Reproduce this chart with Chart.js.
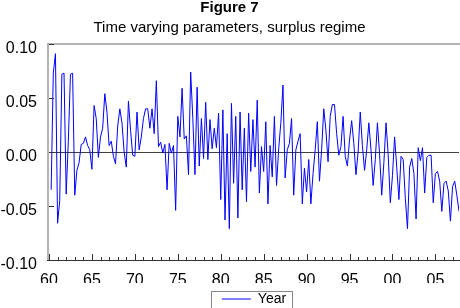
<!DOCTYPE html>
<html>
<head>
<meta charset="utf-8">
<script src="https://cdn.jsdelivr.net/npm/chart.js@4.4.1/dist/chart.umd.min.js"></script>
<style>
  html, body { margin: 0; padding: 0; background: #fff; }
  canvas { display: block; }
</style>
</head>
<body>
<canvas id="chart" width="460" height="308"></canvas>
<script>
// quarterly series, first observation 1960Q2
const firstQuarter = 1960.25;
const values = [
  -0.035, 0.073, 0.091,
  -0.066, -0.045, 0.072, 0.073,
  -0.039, 0.010, 0.072, 0.073,
  -0.040, -0.017, -0.010, 0.007,
  0.008, 0.014, 0.006, 0.002,
  -0.016, 0.043, 0.031, -0.005,
  0.014, 0.022, 0.054, 0.037,
  0.006, 0.010, -0.004, -0.011,
  0.024, 0.040, 0.027, 0.000,
  -0.014, 0.047, 0.020, -0.003,
  -0.004, 0.037, 0.002, 0.014,
  0.031, 0.040, 0.040, 0.022,
  0.040, 0.017, 0.066, 0.005,
  0.009, -0.001, 0.007, -0.035,
  0.008, -0.001, 0.006, -0.054,
  0.033, 0.014, 0.059, 0.012,
  0.015, -0.021, 0.074, 0.031,
  -0.021, 0.060, -0.013, 0.031,
  -0.006, 0.046, -0.007, 0.030,
  0.003, 0.022, 0.004, 0.036,
  -0.044, 0.039, -0.063, 0.017,
  -0.071, 0.045, -0.029, 0.033,
  -0.061, 0.037, -0.035, 0.022,
  -0.046, 0.036, -0.018, 0.030,
  -0.014, 0.048, -0.038, 0.005,
  -0.018, 0.028, -0.048, 0.006,
  -0.023, 0.033, -0.031, 0.003,
  0.027, 0.062, -0.024, 0.002,
  0.008, 0.031, -0.040, 0.002,
  0.010, 0.017, -0.048, -0.015,
  -0.037, -0.007, -0.048, -0.020,
  0.002, 0.028, -0.027, 0.002,
  0.040, 0.020, -0.009, 0.033,
  0.044, 0.044, 0.017, -0.003,
  0.005, 0.033, -0.004, -0.013,
  0.011, 0.029, 0.008, -0.021,
  0.000, 0.037, 0.006, -0.017,
  0.002, 0.027, 0.002, -0.031,
  -0.007, 0.027, -0.002, -0.040,
  -0.010, 0.027, -0.002, -0.047,
  -0.022, 0.014, -0.014, -0.044,
  -0.004, -0.007, -0.043, -0.071,
  -0.014, -0.006, -0.020, -0.062,
  0.004, -0.008, 0.004, -0.038,
  -0.005, -0.003, -0.003, -0.047,
  -0.020, -0.018, -0.027, -0.055,
  -0.029, -0.027, -0.036, -0.064,
  -0.032, -0.027, -0.040, -0.055
];
const tickYears = [1960, 1965, 1970, 1975, 1980, 1985, 1990, 1995, 2000, 2005];
const tickLabels = ["60", "65", "70", "75", "80", "85", "90", "95", "00", "05"];
const yTicks = [-0.10, -0.05, 0.00, 0.05, 0.10];
const seriesName = "Year";

const FONT = "'Liberation Sans', Arial, sans-serif";

const points = values.map((v, i) => ({ x: firstQuarter + i * 0.25, y: v }));

// frame, inward tick marks and the box round the legend
const framePlugin = {
  id: "frame",
  afterDraw(chart) {
    const { ctx, chartArea: a, scales } = chart;
    const x = scales.x, y = scales.y;
    ctx.save();

    ctx.strokeStyle = "#b4b4b4";
    ctx.lineWidth = 2;
    ctx.beginPath();
    ctx.moveTo(a.left - 1, a.bottom);
    ctx.lineTo(a.left - 1, a.top);
    ctx.lineTo(a.right + 1, a.top);
    ctx.stroke();

    ctx.lineWidth = 1;
    ctx.strokeStyle = "#333";
    ctx.beginPath();
    ctx.moveTo(a.left - 2, Math.round(a.bottom) + 0.5);
    ctx.lineTo(a.right + 1, Math.round(a.bottom) + 0.5);
    for (let yr = 1960; yr <= 2007; yr++) {
      const px = Math.round(x.getPixelForValue(yr)) + 0.5;
      const len = yr % 5 === 0 ? 6 : 3;
      ctx.moveTo(px, a.bottom);
      ctx.lineTo(px, a.bottom - len);
    }
    for (const v of yTicks) {
      const py = Math.round(y.getPixelForValue(v)) + 0.5;
      ctx.moveTo(a.left, py);
      ctx.lineTo(a.left + 5, py);
    }
    ctx.stroke();

    const hb = chart.legend && chart.legend.legendHitBoxes && chart.legend.legendHitBoxes[0];
    if (hb) {
      ctx.strokeStyle = "#888";
      ctx.strokeRect(Math.round(hb.left) - 10.5, 291.5, 81, 20);
    }
    ctx.restore();
  }
};

new Chart(document.getElementById("chart"), {
  type: "line",
  data: {
    datasets: [{
      label: seriesName,
      data: points,
      borderColor: "#0000ff",
      backgroundColor: "#0000ff",
      borderWidth: 1,
      pointRadius: 0,
      tension: 0
    }]
  },
  options: {
    responsive: false,
    animation: false,
    devicePixelRatio: 1,
    layout: { padding: { left: 0, right: 1, top: 0, bottom: 0 } },
    plugins: {
      title: {
        display: true,
        text: "Figure 7",
        color: "#000",
        font: { family: FONT, size: 15, weight: "bold", lineHeight: 1 },
        padding: { top: 0, bottom: 5 }
      },
      subtitle: {
        display: true,
        text: "Time varying parameters, surplus regime",
        color: "#000",
        font: { family: FONT, size: 15, lineHeight: 1 },
        padding: { top: 0, bottom: 9 }
      },
      legend: {
        position: "bottom",
        fullSize: false,
        maxHeight: 25,
        labels: {
          color: "#000",
          font: { family: FONT, size: 14 },
          usePointStyle: true,
          pointStyle: "line",
          pointStyleWidth: 29,
          padding: 9
        }
      },
      tooltip: { enabled: false }
    },
    scales: {
      x: {
        type: "linear",
        min: 1960,
        max: 2007.75,
        afterBuildTicks(scale) {
          scale.ticks = tickYears.map(v => ({ value: v }));
        },
        afterFit(scale) { scale.height = 23; },
        ticks: {
          autoSkip: false,
          maxRotation: 0,
          padding: 11,
          color: "#000",
          font: { family: FONT, size: 16 },
          callback: v => tickLabels[tickYears.indexOf(v)]
        },
        grid: { display: false, drawTicks: false },
        border: { display: false }
      },
      y: {
        min: -0.10,
        max: 0.10,
        afterBuildTicks(scale) {
          scale.ticks = yTicks.map(v => ({ value: v }));
        },
        afterFit(scale) { scale.width = 49; },
        ticks: {
          padding: 12,
          labelOffset: 5,
          color: "#000",
          font: { family: FONT, size: 16 },
          callback: v => v.toFixed(2)
        },
        grid: {
          drawTicks: false,
          color: c => (c.tick && Math.abs(c.tick.value) < 1e-9) ? "#404040" : "rgba(0,0,0,0)",
          lineWidth: 1
        },
        border: { display: false }
      }
    }
  },
  plugins: [framePlugin]
});
</script>
</body>
</html>
